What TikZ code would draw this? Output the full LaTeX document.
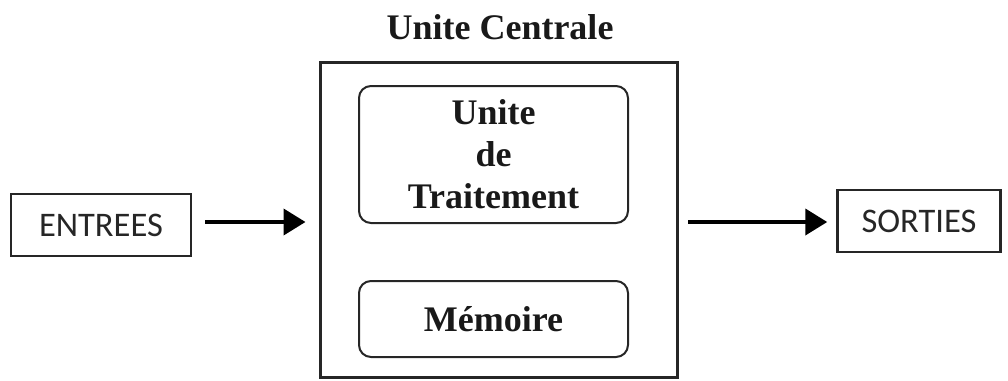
\documentclass[tikz,border=0pt]{standalone}
\usepackage{fontspec}
\setmainfont{Liberation Serif}
\newfontfamily\carlitofont{Carlito}
\usetikzlibrary{arrows.meta}
\begin{document}
\begin{tikzpicture}[x=1pt,y=-1pt,
  iobox/.style={draw=black!85, line width=2.5pt, minimum width=#1, minimum height=62pt, inner sep=0pt, font=\carlitofont\fontsize{34.5}{38}\selectfont, text=black!85},
  unit/.style={draw=black!85, line width=2pt, rounded corners=12pt, minimum width=269pt, inner sep=0pt, font=\bfseries\fontsize{36}{42}\selectfont, align=center, text=black!90},
  flow/.style={line width=4pt, draw=black, -{Triangle[length=22pt,width=26pt]}}
]
\useasboundingbox (0,0) rectangle (1008,380);
\node[iobox=180pt] (in) at (101,225) {ENTREES};
\node[iobox=163pt] (out) at (919,221) {SORTIES};
\node[draw=black!85, line width=3pt, minimum width=357pt, minimum height=315pt, inner sep=0pt] (uc) at (498.5,219.5) {};
\node[font=\bfseries\fontsize{36}{40}\selectfont, text=black!90] (title) at (500,27) {Unite Centrale};
\node[unit, minimum height=137pt] (ut) at (493.5,154.5) {Unite\\de\\Traitement};
\node[unit, minimum height=76pt] (mem) at (493.5,319) {Mémoire};
\coordinate (a1) at (205,222);
\coordinate (a2) at (688,222);
\draw[flow, shorten >=13pt] (a1) -- (uc.west |- a1);
\draw[flow, shorten >=9pt] (a2) -- (out.west |- a2);
\end{tikzpicture}
\end{document}
